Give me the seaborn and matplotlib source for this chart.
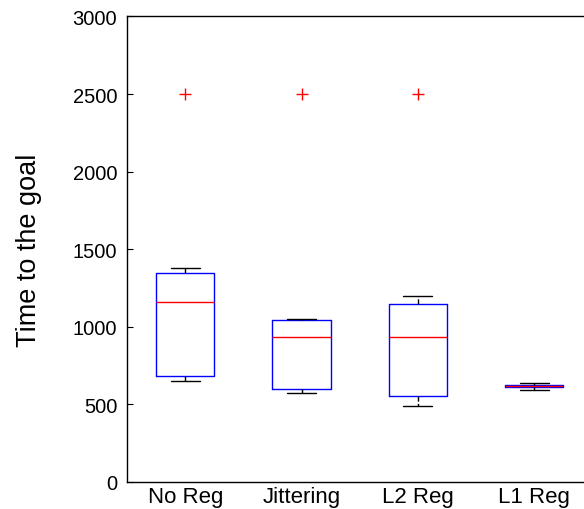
import pandas as pd
import matplotlib.pyplot as plt
import seaborn as sns

# Runs per method (time to the goal)
methods = ['No Reg', 'Jittering', 'L2 Reg', 'L1 Reg']
no_reg = [652, 684, 684, 1161, 1161, 1348, 1348, 1380, 2500]
jittering = [574, 600, 600, 935, 935, 1045, 1045, 1052, 2500]
l2_reg = [490, 555, 555, 935, 935, 1148, 1148, 1200, 2500]
l1_reg = [594, 613, 613, 619, 619, 626, 626, 639]

yticks = [0, 500, 1000, 1500, 2000, 2500, 3000]

runs = [no_reg, jittering, l2_reg, l1_reg]
df = pd.DataFrame({
    'method': [m for m, r in zip(methods, runs) for _ in r],
    'time': [v for r in runs for v in r],
})

sns.set_style('ticks')
plt.rcParams['font.family'] = ['Liberation Sans', 'DejaVu Sans']
plt.rcParams['text.color'] = 'black'
plt.rcParams['axes.labelcolor'] = 'black'
plt.rcParams['xtick.color'] = 'black'
plt.rcParams['ytick.color'] = 'black'

fig = plt.figure(figsize=(5.84, 5.10), dpi=100)
# right edge of the axes box runs past the figure, as in the original crop
ax = fig.add_axes([0.2175, 0.053, 0.797, 0.9127])

sns.boxplot(data=df, x='method', y='time', order=methods, ax=ax,
            width=0.5, whis=1.5, fill=False, linewidth=1,
            boxprops=dict(color='#0000ff'),
            medianprops=dict(color='#ff0000'),
            whiskerprops=dict(color='black', linestyle='--'),
            capprops=dict(color='black'),
            flierprops=dict(marker='+', markeredgecolor='#ff0000',
                            markersize=8, markeredgewidth=1))

ax.set_xlim(-0.5, 3.5)
ax.set_ylim(0, 3000)
ax.set_yticks(yticks)
ax.set_xlabel('')
ax.set_ylabel('Time to the goal', fontsize=19.5, labelpad=22)
ax.tick_params(axis='y', direction='in', length=4, labelsize=14.5, pad=7)
ax.tick_params(axis='x', length=0, labelsize=16, pad=3)
for s in ax.spines.values():
    s.set_linewidth(1)
    s.set_color('black')

fig.savefig('out.png', dpi=100)
